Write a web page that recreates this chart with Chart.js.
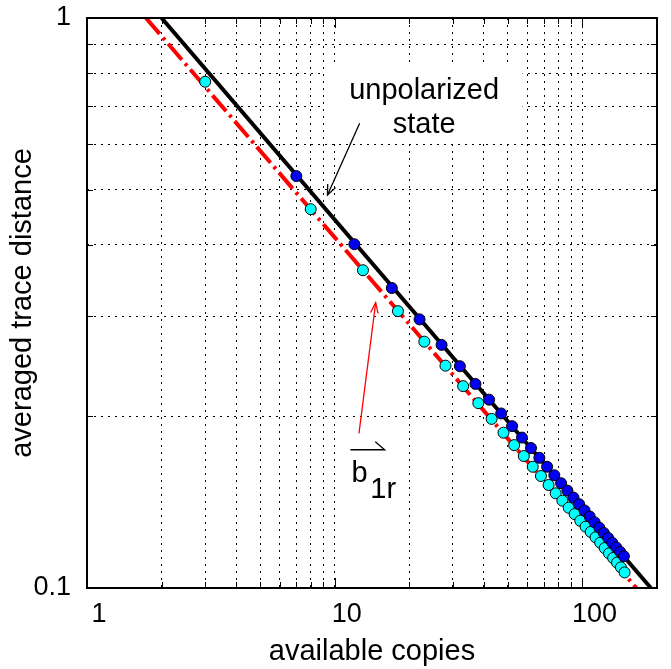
<!DOCTYPE html>
<html><head><meta charset="utf-8">
<script src="https://cdn.jsdelivr.net/npm/chart.js@4"></script>
<style>html,body{margin:0;padding:0;background:#fff}#wrap{width:671px;height:669px}</style>
</head><body><div id="wrap"><canvas id="c" width="671" height="669"></canvas></div>
<script>
// ---- data ----
const blueX = [7,12,17,22,27,32,37,42,47,52,57,62,67,72,77,82,87,92,97,102,107,112,117,122,127,132,137,142,147];
const blueY = [0.528,0.401,0.336,0.296,0.267,0.245,0.228,0.214,0.2024,0.1923,0.1836,0.1760,0.1692,0.1632,0.1577,0.1527,0.1482,0.1441,0.1403,0.1368,0.1335,0.1304,0.1276,0.1249,0.1224,0.1200,0.1178,0.1157,0.1137];
const cyanX = [3,8,13,18,23,28,33,38,43,48,53,58,63,68,73,78,83,88,93,98,103,108,113,118,123,128,133,138,143,148];
const cyanY = [0.773,0.462,0.361,0.306,0.2705,0.2455,0.226,0.211,0.198,0.1873,0.1781,0.1704,0.1632,0.1572,0.1516,0.1466,0.1423,0.1383,0.1348,0.1312,0.1281,0.1254,0.1227,0.1201,0.1175,0.1150,0.1129,0.1108,0.1087,0.1065];
const unpolX = [2,189];
const unpolY = [1,0.1];
const bLineX = [1.73,165];
const bLineY = [1,0.1];
const xGridValues = [1,2,3,4,5,6,7,8,9,10,20,30,40,50,60,70,80,90,100,200];
const yGridValues = [0.1,0.2,0.3,0.4,0.5,0.6,0.7,0.8,0.9,1];
const xTickLabels = ['1','10','100'];
const yTickLabels = ['0.1','1'];
const xTitle = 'available copies';
const yTitle = 'averaged trace distance';

const FAM = '"Liberation Sans", Arial, Helvetica, sans-serif';
const pts = (xs, ys) => xs.map((v, i) => ({x: v, y: ys[i]}));
const isPow10 = v => { const e = Math.log10(v); return Math.abs(e - Math.round(e)) < 1e-6; };

function arrow(ctx, x0, y0, x1, y1, color, len, ang) {
  ctx.strokeStyle = color; ctx.lineWidth = 1.3;
  ctx.beginPath(); ctx.moveTo(x0, y0); ctx.lineTo(x1, y1); ctx.stroke();
  const a = Math.atan2(y0 - y1, x0 - x1);
  ctx.beginPath();
  ctx.moveTo(x1 + len * Math.cos(a + ang), y1 + len * Math.sin(a + ang));
  ctx.lineTo(x1, y1);
  ctx.lineTo(x1 + len * Math.cos(a - ang), y1 + len * Math.sin(a - ang));
  ctx.stroke();
}

const annot = {
  id: 'annot',
  beforeDatasetsDraw(chart) {
    const {ctx, scales: {x, y}} = chart;
    const X = v => x.getPixelForValue(v), Y = v => y.getPixelForValue(v);
    ctx.save();
    ctx.fillStyle = '#fff';
    ctx.fillRect(X(9.11), Y(0.824), X(57.3) - X(9.11), Y(0.606) - Y(0.824));
    ctx.restore();
  },
  afterDatasetsDraw(chart) {
    const {ctx, chartArea: ca, scales: {x, y}} = chart;
    const X = v => x.getPixelForValue(v), Y = v => y.getPixelForValue(v);
    ctx.save();
    // tick marks inside the box
    ctx.strokeStyle = '#000'; ctx.lineWidth = 1;
    x.ticks.forEach(t => {
      const px = Math.round(X(t.value)) + 0.5, L = isPow10(t.value) ? 10 : 6;
      ctx.beginPath();
      ctx.moveTo(px, ca.bottom); ctx.lineTo(px, ca.bottom - L);
      ctx.moveTo(px, ca.top); ctx.lineTo(px, ca.top + L);
      ctx.stroke();
    });
    y.ticks.forEach(t => {
      const py = Math.round(Y(t.value)) + 0.5, L = isPow10(t.value) ? 10 : 6;
      ctx.beginPath();
      ctx.moveTo(ca.left, py); ctx.lineTo(ca.left + L, py);
      ctx.moveTo(ca.right, py); ctx.lineTo(ca.right - L, py);
      ctx.stroke();
    });
    // frame
    ctx.lineWidth = 2;
    ctx.strokeRect(ca.left, ca.top, ca.right - ca.left, ca.bottom - ca.top);
    // texts
    ctx.fillStyle = '#000';
    ctx.font = '29px ' + FAM;
    ctx.textAlign = 'center'; ctx.textBaseline = 'alphabetic';
    ctx.fillText('unpolarized', X(22.96), Y(0.720));
    ctx.fillText('state', X(22.96), Y(0.628));
    ctx.textAlign = 'left';
    ctx.fillText('b', X(11.68), Y(0.1532));
    ctx.fillText('1r', X(13.93), Y(0.1437));
    // vector harpoon over b
    ctx.strokeStyle = '#000'; ctx.lineWidth = 1.3;
    ctx.beginPath();
    ctx.moveTo(X(11.57), Y(0.1748)); ctx.lineTo(X(15.91), Y(0.1748)); ctx.lineTo(X(14.59), Y(0.1805));
    ctx.stroke();
    // arrows
    arrow(ctx, X(12.61), Y(0.6535), X(9.35), Y(0.489), '#000', 11, 0.4);
    arrow(ctx, X(12.53), Y(0.1868), X(14.63), Y(0.3166), '#ff0000', 11, 0.35);
    ctx.restore();
  }
};

new Chart(document.getElementById('c'), {
  type: 'scatter',
  data: {
    datasets: [
      {label: 'blue', data: pts(blueX, blueY), showLine: false, pointRadius: 5.5, pointHoverRadius: 5.5,
       pointBackgroundColor: '#0000f2', pointBorderColor: '#000', pointBorderWidth: 1, order: 0},
      {label: 'cyan', data: pts(cyanX, cyanY), showLine: false, pointRadius: 5.5, pointHoverRadius: 5.5,
       pointBackgroundColor: '#00ffff', pointBorderColor: '#000', pointBorderWidth: 1, order: 1},
      {label: 'unpolarized', data: pts(unpolX, unpolY), showLine: true, borderColor: '#000', borderWidth: 4,
       pointRadius: 0, order: 2},
      {label: 'b1r', data: pts(bLineX, bLineY), showLine: true, borderColor: '#ff0000', borderWidth: 4,
       borderDash: [21, 5, 3, 5], pointRadius: 0, order: 3}
    ]
  },
  options: {
    responsive: false, animation: false,
    layout: {padding: {left: 0, top: 18, right: 14, bottom: 0}},
    plugins: {legend: {display: false}, tooltip: {enabled: false}},
    scales: {
      x: {
        type: 'logarithmic', min: 1, max: 200, position: 'bottom',
        afterBuildTicks(s) { s.ticks = xGridValues.map(v => ({value: v})); },
        afterFit(s) { s.height = 81; s.paddingLeft = 0; s.paddingRight = 0; },
        grid: {color: '#000', lineWidth: 1, drawTicks: false},
        border: {display: false, dash: [2, 5]},
        ticks: {autoSkip: false, maxRotation: 0, padding: 10, labelOffset: 12, color: '#000',
          font: {family: FAM, size: 27},
          callback(v) { return isPow10(v) ? xTickLabels[Math.round(Math.log10(v))] : ''; }},
        title: {display: true, text: xTitle, color: '#000', font: {family: FAM, size: 29},
          padding: {top: 0, bottom: 0}}
      },
      y: {
        type: 'logarithmic', min: 0.1, max: 1, position: 'left',
        afterBuildTicks(s) { s.ticks = yGridValues.map(v => ({value: v})); },
        afterFit(s) { s.width = 87; s.paddingTop = 0; s.paddingBottom = 0; },
        grid: {color: '#000', lineWidth: 1, drawTicks: false},
        border: {display: false, dash: [2, 5]},
        ticks: {autoSkip: false, padding: 16, color: '#000', font: {family: FAM, size: 27},
          callback(v) { return isPow10(v) ? yTickLabels[Math.round(Math.log10(v)) + 1] : ''; }},
        title: {display: true, text: yTitle, color: '#000', font: {family: FAM, size: 29},
          padding: {top: 6, bottom: 0}}
      }
    }
  },
  plugins: [annot]
});
</script>
</body></html>
